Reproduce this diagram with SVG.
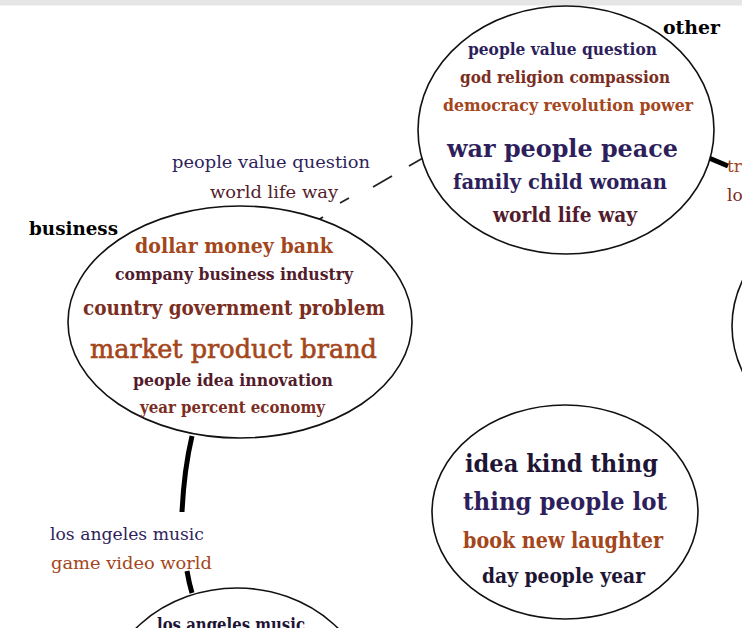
<svg xmlns="http://www.w3.org/2000/svg" width="742" height="628" viewBox="0 0 742 628">
<style>
.node{fill:#fff;stroke:#111;stroke-width:1.6}
text{font-family:"DejaVu Serif","Liberation Serif",serif;text-anchor:start}
.b{font-weight:bold}
.lbl{font-weight:normal;font-size:17px}
.title{font-weight:bold;font-size:19px;fill:#000}
.navy{fill:#2e1f5c}
.dk{fill:#1e1535}
.mar{fill:#521c2c}
.brn{fill:#7a2e22}
.org{fill:#a3461b}
.thick{fill:none;stroke:#000;stroke-width:5;stroke-linecap:butt}
.dash{fill:none;stroke:#222;stroke-width:1.8}
</style>
<rect x="0" y="0" width="742" height="628" fill="#fff"/>
<rect x="0" y="0" width="742" height="5.5" fill="#e6e6e6"/>
<g id="connectors">
<path class="dash" d="M423,158 L409,166 M392,176 L373,187 M349,198 L340,203 M323,217 L318,220"/>
<path class="thick" d="M709,158 L728,166"/>
<path class="thick" d="M192,436 Q184,470 182,512"/>
<path class="thick" d="M187,571 Q189,583 192,593"/>
</g>
<g id="edge-labels">
<text class="lbl navy" x="172" y="168" textLength="198" lengthAdjust="spacingAndGlyphs">people value question</text>
<text class="lbl mar" x="210" y="198" textLength="128" lengthAdjust="spacingAndGlyphs">world life way</text>
<text class="lbl navy" x="50" y="540" textLength="154" lengthAdjust="spacingAndGlyphs">los angeles music</text>
<text class="lbl org" x="51" y="569" textLength="161" lengthAdjust="spacingAndGlyphs">game video world</text>
<text class="lbl org" x="727" y="172">tr</text>
<text class="lbl brn" x="727" y="201">lo</text>
</g>
<g id="node-other">
<ellipse class="node" cx="566" cy="130" rx="148" ry="124"/>
<text class="title" x="663" y="34" textLength="57" lengthAdjust="spacingAndGlyphs">other</text>
<text class="b navy" x="468" y="55" font-size="16" textLength="189" lengthAdjust="spacingAndGlyphs">people value question</text>
<text class="b brn" x="460" y="83" font-size="16" textLength="210" lengthAdjust="spacingAndGlyphs">god religion compassion</text>
<text class="b org" x="443" y="111" font-size="16" textLength="250" lengthAdjust="spacingAndGlyphs">democracy revolution power</text>
<text class="b navy" x="447" y="157" font-size="25" textLength="231" lengthAdjust="spacingAndGlyphs">war people peace</text>
<text class="b navy" x="453" y="189" font-size="21" textLength="214" lengthAdjust="spacingAndGlyphs">family child woman</text>
<text class="b mar" x="493" y="222" font-size="21" textLength="144" lengthAdjust="spacingAndGlyphs">world life way</text>
</g>
<g id="node-business">
<ellipse class="node" cx="240" cy="322" rx="172" ry="116"/>
<text class="title" x="29" y="235" textLength="89" lengthAdjust="spacingAndGlyphs">business</text>
<text class="b org" x="135" y="253" font-size="21" textLength="198" lengthAdjust="spacingAndGlyphs">dollar money bank</text>
<text class="b mar" x="115" y="280" font-size="16" textLength="238" lengthAdjust="spacingAndGlyphs">company business industry</text>
<text class="b brn" x="83" y="315" font-size="20" textLength="302" lengthAdjust="spacingAndGlyphs">country government problem</text>
<text class="org" x="90" y="358" font-size="26" stroke="#a3461b" stroke-width="0.6" textLength="287" lengthAdjust="spacingAndGlyphs">market product brand</text>
<text class="b mar" x="133" y="386" font-size="16" textLength="200" lengthAdjust="spacingAndGlyphs">people idea innovation</text>
<text class="b brn" x="140" y="413" font-size="16" textLength="185" lengthAdjust="spacingAndGlyphs">year percent economy</text>
</g>
<g id="node-los-angeles">
<ellipse class="node" cx="237" cy="710" rx="136" ry="122"/>
<text class="b dk" x="157" y="631" font-size="18" textLength="148" lengthAdjust="spacingAndGlyphs">los angeles music</text>
</g>
<g id="node-idea">
<ellipse class="node" cx="565" cy="512" rx="133" ry="107"/>
<text class="b dk" x="465" y="472" font-size="25" textLength="193" lengthAdjust="spacingAndGlyphs">idea kind thing</text>
<text class="b navy" x="463" y="510" font-size="25" textLength="204" lengthAdjust="spacingAndGlyphs">thing people lot</text>
<text class="b org" x="463" y="548" font-size="22" textLength="200" lengthAdjust="spacingAndGlyphs">book new laughter</text>
<text class="b dk" x="482" y="583" font-size="20" textLength="163" lengthAdjust="spacingAndGlyphs">day people year</text>
</g>
<g id="node-right">
<ellipse class="node" cx="882" cy="326" rx="150" ry="124"/>
</g>
</svg>
